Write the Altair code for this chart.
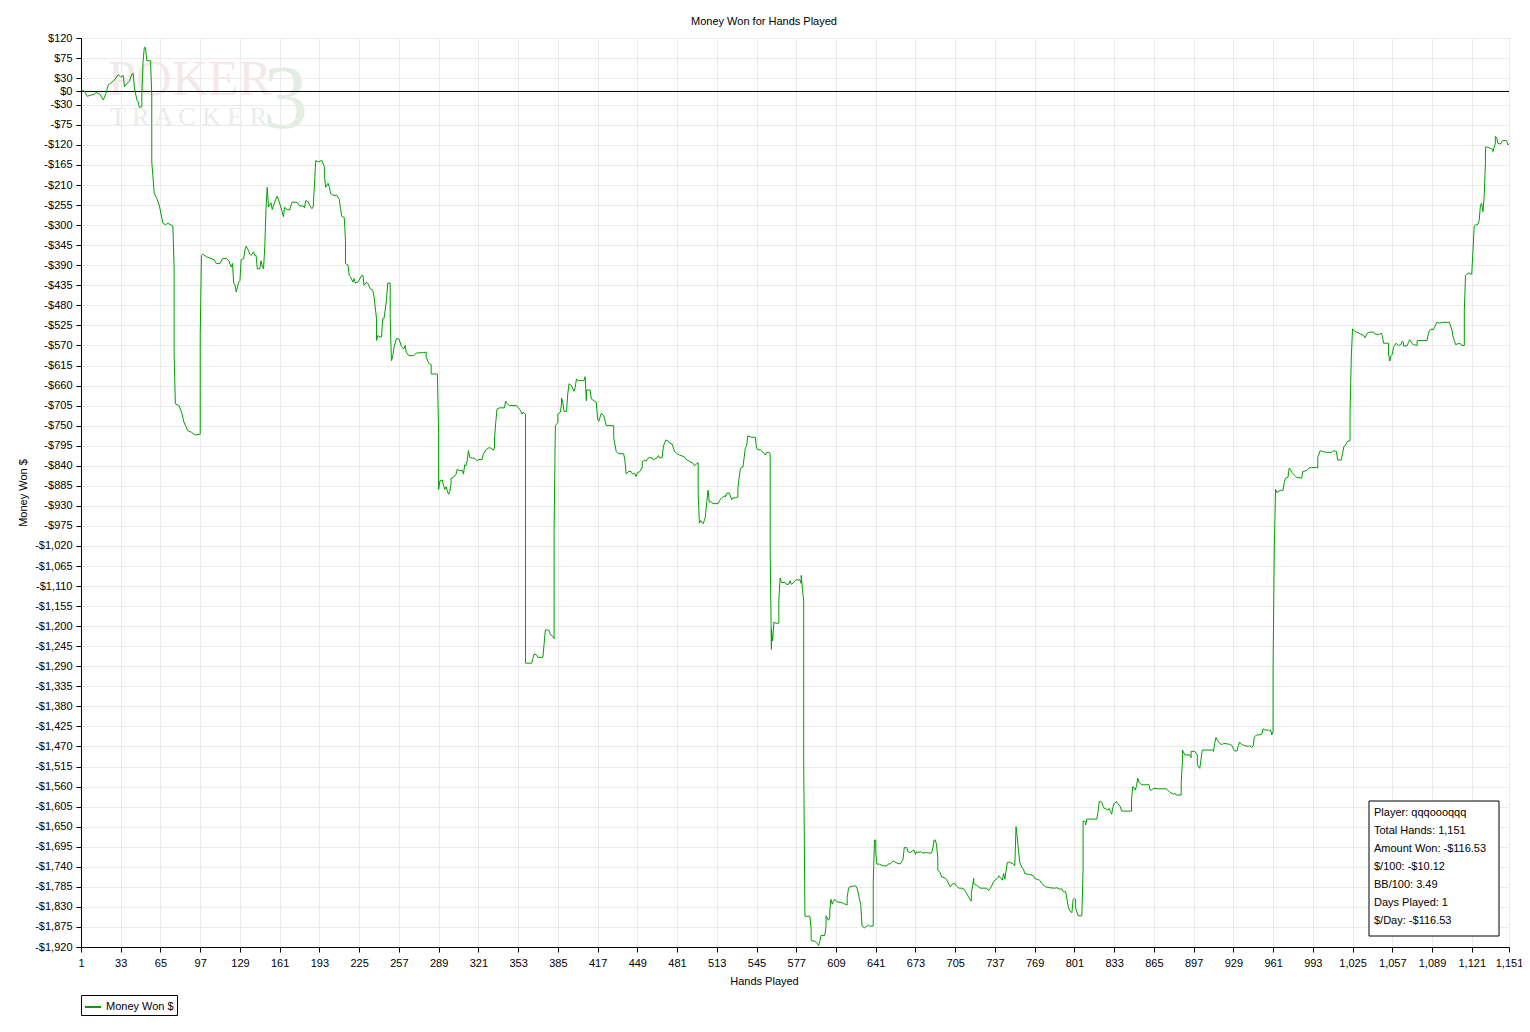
import altair as alt
import pandas as pd

hands = [
    1, 4, 6, 9, 12, 13, 16, 19, 21, 23, 25, 28, 31, 33, 35, 36, 39, 40, 42, 43, 44, 46, 47, 48, 50, 50, 51, 52, 53, 54,
    57, 58, 58, 60, 62, 64, 67, 69, 71, 75, 76, 76, 77, 80, 82, 84, 87, 90, 93, 97, 97,
    98, 99, 102, 108, 110, 113, 115, 118, 120, 122, 123, 124, 125, 126, 128, 129, 130, 132, 133, 134, 136, 137, 138, 140,
    141, 142, 143, 145, 146, 147, 148, 149, 150, 151, 151, 152, 153, 154, 155, 157, 159, 160, 161, 163, 164, 165, 167, 169,
    171, 175, 177, 180, 181, 182, 184, 185, 187, 188, 189, 190, 192, 195, 197, 197, 198, 200, 201, 202, 204, 207, 209, 210,
    211, 213, 214, 214, 216, 217, 218, 220, 221, 222, 224, 227, 228, 229, 231, 232, 234, 236, 237, 239, 239, 240, 242, 243,
    244, 245, 247, 248, 250, 250, 251, 252, 253, 255, 257, 258, 259, 261, 262, 263, 265, 269, 271, 277, 279, 279, 281, 283,
    283, 288, 289, 289,
    290, 292, 293, 294, 295, 296, 297, 298, 299, 299, 301, 303, 304, 306, 308, 309, 310, 311, 312, 313, 314, 316, 318, 320,
    321, 324, 325, 327, 329, 331, 333, 334, 334, 335, 336, 338, 342, 343, 344, 346, 352, 353, 355, 356, 357, 359, 359, 359,
    364, 365, 366, 368, 369, 373, 374, 375, 376, 378, 379, 381, 382, 382, 383, 385, 385, 387, 388, 388, 389, 390, 392, 393,
    394, 396, 398, 399, 400, 401, 406, 407, 408, 408, 411, 412, 414, 416, 417, 418, 420, 422, 423, 424, 430,
    430, 432, 434, 438, 439, 440, 442, 444, 445, 447, 448, 449, 451, 453, 453, 455, 456, 458, 461, 462, 463, 465, 466, 467,
    469, 470, 472, 474, 475, 477, 479, 481, 483, 487, 488, 491, 494, 495, 497, 498, 498, 499, 500, 502, 503, 504, 504, 505,
    506, 507, 508, 510, 514, 516, 517, 518, 520, 520, 521, 523, 524, 525, 526, 528, 530, 530, 531, 532, 533, 534, 535, 536,
    537, 538, 541, 544, 545, 546, 548, 549, 551, 552, 553, 555, 556, 556, 557, 557, 558, 559, 561, 563, 563, 564, 565, 568,
    569, 571, 572, 573, 575, 576, 577, 580, 581, 581, 582, 583, 583, 584, 586, 588, 589, 589, 592, 594, 595,
    596, 597, 600, 601, 601, 603, 604, 604, 605, 606, 607, 608, 610, 613, 615, 618, 618, 619, 620, 623, 625, 626, 628, 629,
    630, 632, 633, 635, 636, 639, 639, 640, 641, 641, 642, 644, 647, 650, 651, 653, 655, 657, 659, 661, 663, 664, 666, 667,
    669, 671, 672, 673, 674, 675, 677, 679, 682, 683, 686, 687, 688, 689, 690, 691, 691, 693, 694, 696, 698, 700, 701, 703,
    705, 706, 708, 710, 712, 714, 716, 717, 718, 718, 720, 720, 722, 724, 725, 728, 730, 732, 734, 736, 737, 738, 740, 740,
    742, 743, 744, 745, 746, 747, 749, 752, 753, 754, 754, 755, 756, 757, 759, 760, 761, 764, 765, 768, 769, 771, 773, 775,
    776, 778, 781, 785, 787, 789, 791, 792, 794, 795, 796, 797, 799, 800, 801, 802, 802, 804, 807, 808, 808, 810, 810, 811,
    814, 819, 820, 821,
    823, 824, 825, 826, 828, 829, 830, 831, 832, 833, 835, 836, 838, 839, 847, 847, 848, 849, 850, 851, 852, 853, 855, 859,
    861, 862, 863, 865, 866, 869, 875, 877, 878, 881, 882, 883, 887, 887, 888, 888, 890, 894, 895, 895, 898, 900, 900, 902,
    904, 913, 913, 914, 915, 916, 918, 920, 921, 926, 928, 929, 930, 932, 933, 934, 936, 938, 941, 942, 944, 945, 946, 948,
    950, 952, 953, 954, 957, 958, 959, 960, 961, 961, 962, 963, 964, 965, 967, 969, 970, 971, 973, 974,
    975, 976, 979, 980, 984, 985, 988, 990, 992, 996, 997, 997, 999, 1001, 1004, 1008, 1010, 1012, 1013, 1016, 1018, 1019,
    1021, 1023, 1023, 1024, 1025, 1027, 1028, 1030, 1031, 1034, 1035, 1037, 1039, 1042, 1043, 1044, 1047, 1048, 1049, 1050,
    1054, 1054, 1055, 1056, 1057, 1058, 1060, 1062, 1064, 1065, 1066, 1066, 1069, 1070, 1071, 1073, 1074, 1077, 1077, 1081,
    1085, 1086, 1087, 1089, 1090, 1091, 1093, 1095, 1098, 1103, 1105, 1106, 1107, 1108, 1110, 1112, 1113, 1115, 1115, 1116,
    1117, 1119, 1120, 1121, 1122, 1123, 1124, 1126, 1127, 1128, 1129, 1130, 1131, 1132, 1132, 1134, 1136, 1138, 1138, 1140,
    1140, 1141, 1142, 1144, 1146, 1148, 1149, 1150, 1151,
]

money_won = [
    4, 0, -11, -8, -6, -2, -6, -19, -5, 15, 19, 26, 38, 32, 36, 11, 21, 23, 39, 41, 8, -19, -23, -36, -34, -8, 68, 99, 98, 69,
    69, -8, -158, -229, -240, -255, -296, -299, -296, -302, -398, -593, -701, -705, -720, -743, -761, -765, -771, -769, -548,
    -368, -365, -371, -377, -386, -386, -375, -375, -380, -394, -386, -431, -433, -450, -428, -424, -377, -375, -356, -347,
    -358, -365, -368, -360, -368, -368, -398, -398, -380, -392, -398, -349, -263, -215, -218, -259, -255, -250, -265, -248,
    -235, -242, -251, -270, -281, -260, -265, -266, -248, -249, -257, -257, -261, -245, -248, -255, -263, -259, -210, -155,
    -158, -155, -169, -188, -215, -206, -215, -229, -233, -233, -242, -263, -280, -283, -334, -386, -390, -413, -416, -428,
    -420, -430, -428, -413, -413, -435, -428, -431, -443, -446, -461, -510, -559, -548, -551, -551, -510, -510, -469, -430,
    -430, -510, -604, -596, -575, -555, -555, -563, -572, -578, -570, -585, -593, -593, -587, -586, -585, -596, -610, -613,
    -634, -634, -765, -893,
    -874, -872, -885, -893, -887, -896, -904, -898, -881, -868, -866, -859, -848, -851, -850, -859, -838, -840, -829, -806,
    -821, -823, -823, -829, -826, -826, -814, -805, -800, -800, -805, -800, -780, -743, -713, -710, -710, -695, -700, -705,
    -705, -709, -716, -724, -720, -724, -1005, -1283, -1283, -1271, -1262, -1265, -1270, -1270, -1238, -1208, -1208, -1210,
    -1219, -1223, -1228, -986, -750, -743, -724, -720, -701, -688, -698, -718, -718, -679, -656, -660, -673, -664, -645,
    -649, -649, -640, -694, -670, -670, -690, -694, -698, -735, -740, -722, -728, -739, -750, -750,
    -777, -808, -813, -813, -827, -858, -853, -853, -858, -858, -864, -856, -853, -843, -831, -827, -830, -822, -822, -827,
    -825, -822, -817, -822, -822, -796, -782, -785, -789, -791, -808, -813, -816, -820, -825, -830, -835, -840, -835, -833,
    -901, -969, -963, -970, -963, -953, -947, -920, -895, -922, -920, -925, -925, -915, -912, -910, -907, -910, -902, -901,
    -908, -916, -912, -912, -910, -889, -868, -847, -843, -843, -823, -800, -796, -773, -776, -776, -800, -804, -804, -806,
    -812, -816, -810, -810, -812, -1032, -1252, -1206, -1233, -1191, -1194, -1193, -1140, -1092, -1102, -1102, -1106, -1106,
    -1098, -1106, -1102, -1098, -1096, -1096, -1104, -1086, -1117, -1144, -1500, -1851, -1851, -1851, -1881, -1906, -1907,
    -1912, -1917,
    -1907, -1894, -1894, -1873, -1850, -1860, -1853, -1838, -1813, -1824, -1817, -1813, -1819, -1820, -1822, -1826, -1809,
    -1790, -1785, -1783, -1783, -1788, -1813, -1826, -1873, -1877, -1875, -1871, -1873, -1873, -1778, -1680, -1680, -1708,
    -1734, -1734, -1738, -1738, -1734, -1733, -1727, -1730, -1733, -1733, -1723, -1697, -1697, -1706, -1708, -1703, -1703,
    -1712, -1706, -1708, -1706, -1709, -1708, -1709, -1709, -1698, -1680, -1680, -1691, -1719, -1748, -1753, -1763, -1764,
    -1768, -1779, -1785, -1778, -1778, -1783, -1788, -1788, -1790, -1798, -1809, -1813, -1817, -1800, -1766, -1778, -1781,
    -1785, -1788, -1788, -1788, -1793, -1785, -1773, -1770, -1768, -1763, -1760, -1766, -1770, -1755, -1768, -1749, -1730,
    -1730, -1734, -1738, -1652, -1650, -1674, -1704, -1730, -1743, -1745, -1755, -1757, -1757, -1760, -1766, -1768, -1770,
    -1778, -1781, -1785, -1787, -1788, -1787, -1790, -1790, -1796, -1796, -1813, -1828, -1838, -1843, -1813, -1811, -1813,
    -1832, -1850, -1850, -1745, -1637, -1640, -1646, -1633, -1633, -1633, -1618, -1593,
    -1595, -1603, -1609, -1609, -1613, -1609, -1616, -1622, -1607, -1598, -1594, -1598, -1605, -1615, -1615, -1590, -1560,
    -1562, -1568, -1560, -1541, -1550, -1556, -1556, -1555, -1568, -1568, -1564, -1564, -1565, -1565, -1570, -1573, -1577,
    -1575, -1579, -1579, -1553, -1504, -1478, -1489, -1489, -1495, -1481, -1481, -1489, -1511, -1519, -1478, -1478, -1481,
    -1463, -1450, -1455, -1463, -1466, -1463, -1465, -1468, -1475, -1480, -1480, -1468, -1460, -1466, -1468, -1470, -1468,
    -1472, -1468, -1448, -1444, -1444, -1442, -1430, -1433, -1433, -1435, -1433, -1444, -1436, -1294, -1025, -893, -900,
    -898, -895, -895, -878, -868, -866, -845,
    -848, -855, -863, -866, -868, -853, -851, -845, -844, -844, -845, -821, -806, -808, -810, -810, -806, -808, -827, -827,
    -797, -795, -785, -784, -720, -596, -533, -538, -540, -542, -544, -548, -553, -542, -540, -540, -544, -545, -545, -542,
    -548, -565, -565, -589, -605, -593, -590, -574, -565, -570, -568, -560, -563, -571, -571, -563, -557, -566, -568, -570,
    -559, -559, -559, -544, -536, -533, -535, -529, -518, -520, -518, -518, -535, -551, -559, -568, -566, -566, -570, -570,
    -491, -413, -410, -407, -410, -410, -356, -302, -300, -298, -289, -255, -251, -270, -236, -161, -125, -125, -128, -130,
    -135, -116, -101, -103, -116, -118, -110, -110, -110, -120, -117,
]

x_ticks = list(range(1, 1122, 32)) + [1151]
y_ticks = [120, 75, 30, 0] + list(range(-30, -1921, -45))

stats_lines = [
    "Player: qqqoooqqq",
    "Total Hands: 1,151",
    "Amount Won: -$116.53",
    "$/100: -$10.12",
    "BB/100: 3.49",
    "Days Played: 1",
    "$/Day: -$116.53",
]
series_name = "Money Won $"
chart_title = "Money Won for Hands Played"

FONT = "Liberation Sans"
GREEN = "#00a000"
GRID = "#ebebeb"

df = pd.DataFrame({"hand": hands, "money": money_won})
df["i"] = range(len(df))
df["series"] = series_name

x_enc = alt.X(
    "hand:Q",
    scale=alt.Scale(domain=[1, 1151], nice=False, zero=False),
    axis=alt.Axis(
        values=x_ticks, labelExpr="format(datum.value, ',')", title="Hands Played",
        grid=True, gridColor=GRID, gridWidth=1,
        tickColor="black", tickSize=5, domainColor="black",
        labelFont=FONT, labelFontSize=11, labelColor="black", labelPadding=5,
        labelFlush=False, labelOverlap=False,
        titleFont=FONT, titleFontSize=11, titleFontWeight="normal", titleColor="black", titlePadding=7,
        titleX=683,
    ),
)
y_enc = alt.Y(
    "money:Q",
    scale=alt.Scale(domain=[-1920, 120], nice=False, zero=False),
    axis=alt.Axis(
        values=y_ticks,
        labelExpr="(datum.value < 0 ? '-' : '') + '$' + format(abs(datum.value), ',')",
        title="Money Won $",
        grid=True, gridColor=GRID, gridWidth=1,
        tickColor="black", tickSize=5, domainColor="black",
        labelFont=FONT, labelFontSize=11, labelColor="black", labelPadding=4,
        labelFlush=False, labelOverlap=False,
        titleFont=FONT, titleFontSize=11, titleFontWeight="normal", titleColor="black", titlePadding=6,
    ),
)

one = pd.DataFrame({"k": [0]})

wm_poker = alt.Chart(pd.DataFrame({"t": ["POKER"]})).mark_text(
    font="Liberation Serif", fontSize=50, color="#f4e8e8", align="left", baseline="alphabetic"
).encode(text="t:N", x=alt.value(27), y=alt.value(57))
wm_tracker = alt.Chart(pd.DataFrame({"t": ["T R A C K E R"]})).mark_text(
    font="Liberation Serif", fontSize=26, color="#e9ece9", align="left", baseline="alphabetic"
).encode(text="t:N", x=alt.value(29), y=alt.value(87))
wm_three = alt.Chart(pd.DataFrame({"t": ["3"]})).mark_text(
    font="Liberation Serif", fontSize=90, color="#e4ede4", align="left", baseline="alphabetic"
).encode(text="t:N", x=alt.value(182), y=alt.value(90))

zero_rule = alt.Chart(pd.DataFrame({"money": [0]})).mark_rule(color="black", strokeWidth=1).encode(y=y_enc)

line = alt.Chart(df).mark_line(strokeWidth=1, interpolate="linear").encode(
    x=x_enc,
    y=y_enc,
    order=alt.Order("i:Q"),
    color=alt.Color(
        "series:N",
        scale=alt.Scale(range=[GREEN]),
        title=None,
        legend=alt.Legend(
            orient="none", legendX=0, legendY=957,
            strokeColor="black", fillColor="white", padding=3, cornerRadius=0,
            symbolType="stroke", symbolSize=256, symbolStrokeWidth=2, symbolStrokeColor=GREEN,
            labelFont=FONT, labelFontSize=11, labelColor="black", labelOffset=4,
        ),
    ),
)

box = alt.Chart(one).mark_rect(fill="white", stroke="black", strokeWidth=1).encode(
    x=alt.value(1288), x2=alt.value(1418), y=alt.value(763), y2=alt.value(898)
)
stats = alt.Chart(one).mark_text(
    align="left", baseline="middle", lineHeight=18, font=FONT, fontSize=11, color="black"
).encode(x=alt.value(1293), y=alt.value(775), text=alt.value(stats_lines))

chart = alt.layer(wm_poker, wm_tracker, wm_three, zero_rule, line, box, stats).properties(
    width=1428,
    height=909,
    title=alt.TitleParams(
        chart_title, font=FONT, fontSize=11, fontWeight="normal", color="black",
        anchor="middle", offset=5, dx=-31,
    ),
    autosize=alt.AutoSizeParams(type="none"),
    padding={"left": 73, "top": 30, "right": 13, "bottom": 72},
).configure(font=FONT).configure_view(stroke="black", strokeWidth=1)

chart.save("out.html", embed_options={"renderer": "svg", "actions": False})
